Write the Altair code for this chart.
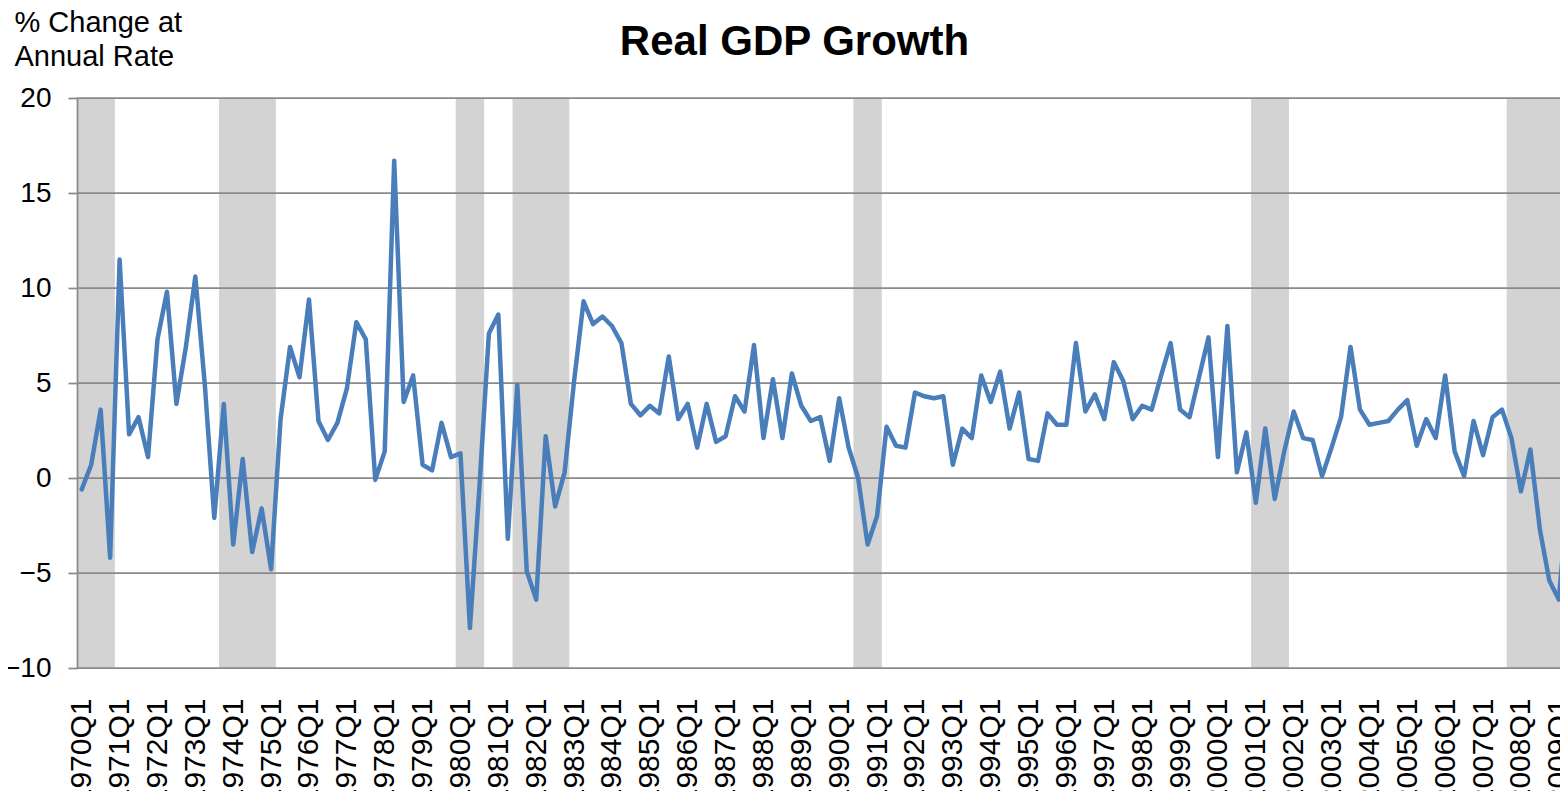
import altair as alt
import pandas as pd

years = list(range(1970, 2010))
quarters = [f"{y}Q{q}" for y in years for q in (1, 2, 3, 4)][:158]

gdp = [
    -0.6, 0.7, 3.6, -4.2, 11.5, 2.3, 3.2, 1.1, 7.3, 9.8,
    3.9, 6.9, 10.6, 4.9, -2.1, 3.9, -3.5, 1.0, -3.9, -1.6,
    -4.8, 3.1, 6.9, 5.3, 9.4, 3.0, 2.0, 2.9, 4.7, 8.2,
    7.3, -0.1, 1.4, 16.7, 4.0, 5.4, 0.7, 0.4, 2.9, 1.1,
    1.3, -7.9, -0.5, 7.6, 8.6, -3.2, 4.9, -4.9, -6.4, 2.2,
    -1.5, 0.3, 5.1, 9.3, 8.1, 8.5, 8.0, 7.1, 3.9, 3.3,
    3.8, 3.4, 6.4, 3.1, 3.9, 1.6, 3.9, 1.9, 2.2, 4.3,
    3.5, 7.0, 2.1, 5.2, 2.1, 5.5, 3.8, 3.0, 3.2, 0.9,
    4.2, 1.6, 0.0, -3.5, -2.0, 2.7, 1.7, 1.6, 4.5, 4.3,
    4.2, 4.3, 0.7, 2.6, 2.1, 5.4, 4.0, 5.6, 2.6, 4.5,
    1.0, 0.9, 3.4, 2.8, 2.8, 7.1, 3.5, 4.4, 3.1, 6.1,
    5.1, 3.1, 3.8, 3.6, 5.4, 7.1, 3.6, 3.2, 5.3, 7.4,
    1.1, 8.0, 0.3, 2.4, -1.3, 2.6, -1.1, 1.4, 3.5, 2.1,
    2.0, 0.1, 1.6, 3.2, 6.9, 3.6, 2.8, 2.9, 3.0, 3.6,
    4.1, 1.7, 3.1, 2.1, 5.4, 1.4, 0.1, 3.0, 1.2, 3.2,
    3.6, 2.1, -0.7, 1.5, -2.7, -5.4, -6.4, -0.7,
]

recession_start = ["1970Q1", "1973Q4", "1980Q1", "1981Q3", "1990Q3", "2001Q1", "2007Q4"]
recession_end = ["1970Q4", "1975Q1", "1980Q3", "1982Q4", "1991Q1", "2001Q4", "2009Q2"]

y_ticks = [-10, -5, 0, 5, 10, 15, 20]
x_label_values = [q for q in quarters if q.endswith("Q1")]

FONT = "Liberation Sans"
GRID = "#8a8a8a"

# visible plot width fits the window; the x range runs slightly past it and is clipped
PLOT_W = 1483
X_RANGE = [0, 1496]

df = pd.DataFrame({"quarter": quarters, "gdp": gdp})
rec_df = pd.DataFrame({
    "start": [quarters.index(s) for s in recession_start],
    "end": [quarters.index(e) + 1 for e in recession_end],
})
grid_df = pd.DataFrame({"v": y_ticks})

y_scale = alt.Scale(domain=[-10, 20], nice=False, zero=False)
y_axis = alt.Axis(
    values=y_ticks, grid=False, zindex=1,
    domain=True, domainColor=GRID, domainWidth=1.75,
    ticks=True, tickSize=9, tickColor=GRID, tickWidth=1.75,
    labelFont=FONT, labelFontSize=28, labelColor="black", labelPadding=17,
    title=["% Change at", "Annual Rate"], titleAngle=0, titleAlign="left",
    titleBaseline="top", titleX=-63, titleY=-90, titleFont=FONT,
    titleFontSize=29, titleFontWeight="normal", titleLineHeight=34,
    titleColor="black",
)

shade = alt.Chart(rec_df).mark_rect(color="#d3d3d3").encode(
    x=alt.X("start:Q", scale=alt.Scale(domain=[0, len(quarters)], range=X_RANGE,
                                       nice=False, zero=False), axis=None),
    x2="end:Q",
    y=alt.datum(-10, scale=y_scale),
    y2=alt.datum(20),
)

grid = alt.Chart(grid_df).mark_rule(color=GRID, strokeWidth=1.75).encode(
    y=alt.Y("v:Q", scale=y_scale, axis=y_axis),
)

line = alt.Chart(df).mark_line(
    color="#4a7ebb", strokeWidth=4.5, strokeJoin="round", strokeCap="round"
).encode(
    x=alt.X(
        "quarter:N", sort=quarters,
        scale=alt.Scale(type="point", domain=quarters, padding=0.5, range=X_RANGE),
        axis=alt.Axis(
            values=x_label_values, labelAngle=-90, labelFont=FONT, labelFontSize=30,
            labelColor="black", ticks=False, domain=False, grid=False,
            labelPadding=30, title=None, labelOverlap=False, labelFlush=False,
        ),
    ),
    y=alt.Y("gdp:Q", scale=y_scale, axis=y_axis),
)

chart = alt.layer(shade, grid, line).resolve_scale(x="independent").properties(
    width=PLOT_W,
    height=570,
    padding={"left": 69, "top": 90, "right": 0, "bottom": 123},
    autosize=alt.AutoSizeParams(type="none"),
    title=alt.TitleParams(
        "Real GDP Growth", font=FONT, fontSize=42, fontWeight="bold",
        color="black", anchor="middle", frame="group", dx=-24, offset=-56,
    ),
).configure_view(stroke=None)

chart.save("out.html", embed_options={"renderer": "svg", "actions": False})
